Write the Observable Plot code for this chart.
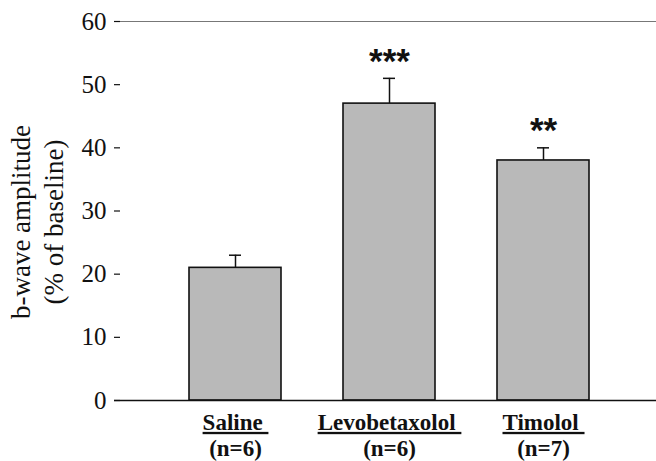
<!DOCTYPE html>
<html>
<head>
<meta charset="utf-8">
<script src="https://cdn.jsdelivr.net/npm/d3@7"></script>
<script src="https://cdn.jsdelivr.net/npm/@observablehq/plot@0.6"></script>
<style>
  html, body { margin: 0; padding: 0; background: #fff; }
  .xname text { text-decoration: underline; }
</style>
</head>
<body>
<div id="chart"></div>
<script>
const groups = ["Saline", "Levobetaxolol", "Timolol"];
const ns = ["(n=6)", "(n=6)", "(n=7)"];
const means = [21, 47, 38];
const sems = [2, 4, 2];
const stars = ["", "***", "**"];
const yTicks = [0, 10, 20, 30, 40, 50, 60];

const data = groups.map((g, i) => ({group: g, n: ns[i], mean: means[i], top: means[i] + sems[i], star: stars[i]}));

const serif = "'Liberation Serif', 'Times New Roman', serif";

const chart = Plot.plot({
  width: 656,
  height: 461,
  marginLeft: 120,
  marginRight: 0,
  marginTop: 21,
  marginBottom: 61,
  style: {fontFamily: serif, background: "#fff"},
  x: {domain: groups, range: [127, 651], padding: 0.4, axis: null},
  y: {domain: [0, 60], axis: null},
  marks: [
    Plot.ruleY([60], {stroke: "#777", strokeWidth: 1.2}),
    Plot.ruleX(data, {x: "group", y1: "mean", y2: "top", stroke: "#111", strokeWidth: 1.5}),
    Plot.tickY(data, {x: "group", y: "top", stroke: "#111", strokeWidth: 1.5, insetLeft: 40, insetRight: 40}),
    Plot.barY(data, {x: "group", y: "mean", fill: "#b9b9b9", stroke: "#111", strokeWidth: 1.6}),
    Plot.ruleY([0], {stroke: "#111", strokeWidth: 1.6, insetLeft: -6}),
    Plot.ruleX([0], {x: () => null, y1: 0, y2: 60, frameAnchor: "left", stroke: "#111", strokeWidth: 1.6}),
    Plot.axisY(yTicks, {anchor: "left", tickSize: 6, tickPadding: 8, fontSize: 25, stroke: "#111", strokeWidth: 1.2, fill: "#111", label: null}),
    Plot.text(data, {x: "group", y: "top", text: "star", dy: -17, fontSize: 35, fontWeight: "bold", fontFamily: "'Liberation Sans', Arial, sans-serif", fill: "#111", lineAnchor: "middle", style: {letterSpacing: "3px"}}),
    Plot.text(data, {x: "group", text: d => d.group + "\u00a0", frameAnchor: "bottom", dy: 22, fontSize: 23, fontWeight: "bold", fill: "#111", className: "xname", lineAnchor: "middle"}),
    Plot.text(data, {x: "group", text: "n", frameAnchor: "bottom", dy: 48, fontSize: 23, fontWeight: "bold", fill: "#111", lineAnchor: "middle"}),
    Plot.text(["b-wave amplitude\n(% of baseline)"], {frameAnchor: "left", textAnchor: "middle", text: d => d, rotate: -90, dx: -85, dy: 11, fontSize: 27, fill: "#111", lineHeight: 1.22, lineAnchor: "middle"})
  ]
});
document.getElementById("chart").appendChild(chart);
</script>
</body>
</html>
